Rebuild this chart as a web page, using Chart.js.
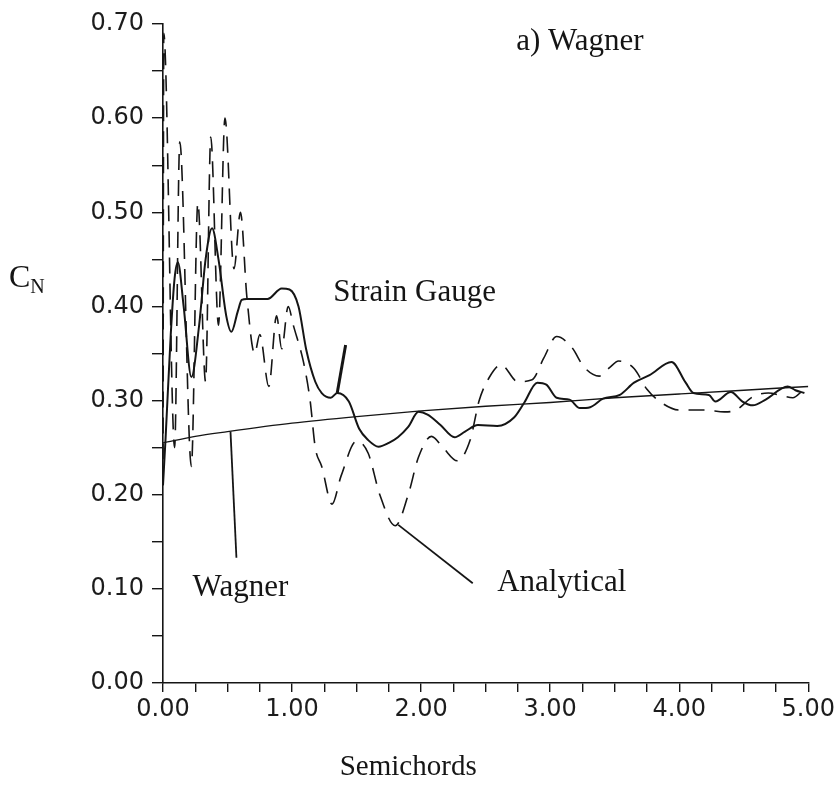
<!DOCTYPE html>
<html>
<head>
<meta charset="utf-8">
<script src="https://cdn.jsdelivr.net/npm/chart.js@4/dist/chart.umd.min.js"></script>
<style>
  html, body { margin: 0; padding: 0; background: #fff; }
  #wrap { width: 838px; height: 788px; }
</style>
</head>
<body>
<div id="wrap"><canvas id="chart" width="838" height="788"></canvas></div>
<script>
// Wagner function (solid thin)
const wagnerX = [0, 0.25, 0.5, 1.0, 1.5, 2.0, 2.5, 3.0, 3.5, 4.0, 4.5, 5.0];
const wagnerY = [0.255, 0.262, 0.267, 0.276, 0.283, 0.289, 0.294, 0.298, 0.303, 0.307, 0.311, 0.315];

// Strain gauge (solid)
const gaugeX = [0, 0.02, 0.06, 0.09, 0.115, 0.16, 0.22, 0.28, 0.33, 0.38, 0.43, 0.49, 0.53, 0.58, 0.61, 0.65,
    0.81, 0.92, 0.98, 1.05, 1.11, 1.18, 1.23, 1.30, 1.35, 1.44, 1.52, 1.59, 1.67, 1.75, 1.82, 1.90, 1.98,
    2.05, 2.15, 2.26, 2.34, 2.44, 2.59, 2.72, 2.80, 2.90, 2.97, 3.05, 3.15, 3.23, 3.31, 3.41, 3.54, 3.65,
    3.77, 3.94, 4.05, 4.11, 4.23, 4.28, 4.40, 4.49, 4.57, 4.67, 4.84, 4.90, 4.97];
const gaugeY = [0.21, 0.26, 0.37, 0.43, 0.447, 0.40, 0.325, 0.38, 0.45, 0.483, 0.45, 0.39, 0.373, 0.395, 0.407, 0.408,
    0.408, 0.419, 0.418, 0.40, 0.354, 0.32, 0.308, 0.303, 0.308, 0.299, 0.27, 0.258, 0.251, 0.255, 0.261, 0.272, 0.288,
    0.285, 0.274, 0.261, 0.267, 0.274, 0.273, 0.282, 0.298, 0.319, 0.317, 0.303, 0.301, 0.292, 0.293, 0.302, 0.306, 0.319,
    0.327, 0.341, 0.319, 0.308, 0.306, 0.299, 0.309, 0.299, 0.295, 0.301, 0.315, 0.311, 0.308];

// Analytical (dashed)
const analyticX = [0, 0.006, 0.09, 0.13, 0.22, 0.27, 0.33, 0.37, 0.43, 0.48, 0.55, 0.60, 0.65, 0.71, 0.75, 0.82,
    0.88, 0.92, 0.97, 1.01, 1.09, 1.14, 1.18, 1.23, 1.31, 1.38, 1.50, 1.59, 1.68, 1.80, 1.90, 1.98, 2.08, 2.17,
    2.28, 2.38, 2.45, 2.53, 2.62, 2.75, 2.86, 2.95, 3.05, 3.17, 3.26, 3.38, 3.46, 3.53, 3.65, 3.75, 3.86, 4.0,
    4.2, 4.35, 4.44, 4.57, 4.69, 4.8, 4.88, 4.96];
const analyticY = [0.21, 0.69, 0.25, 0.575, 0.23, 0.51, 0.32, 0.58, 0.38, 0.60, 0.44, 0.50, 0.41, 0.35, 0.37, 0.315,
    0.39, 0.355, 0.40, 0.38, 0.34, 0.30, 0.25, 0.23, 0.19, 0.22, 0.257, 0.244, 0.20, 0.167, 0.20, 0.24, 0.262, 0.25,
    0.236, 0.258, 0.30, 0.325, 0.338, 0.32, 0.322, 0.345, 0.368, 0.356, 0.336, 0.326, 0.335, 0.342, 0.334, 0.312, 0.298, 0.29,
    0.29, 0.288, 0.29, 0.304, 0.308, 0.305, 0.303, 0.311];

// leader lines from labels to curves
const wagnerLeaderX = [0.523, 0.569];
const wagnerLeaderY = [0.267, 0.133];
const gaugeLeaderX = [1.35, 1.415];
const gaugeLeaderY = [0.308, 0.359];
const analyticLeaderX = [1.823, 2.40];
const analyticLeaderY = [0.168, 0.106];

const xTicks = [0, 1, 2, 3, 4, 5];
const yTicks = [0, 0.1, 0.2, 0.3, 0.4, 0.5, 0.6, 0.7];

const toPoints = (xs, ys) => xs.map((x, i) => ({ x, y: ys[i] }));

const INK = '#151515';
const serif = '"Liberation Serif", "Times New Roman", serif';

const curve = (label, xs, ys, extra) => Object.assign({
    label,
    data: toPoints(xs, ys),
    borderColor: INK,
    borderWidth: 1.6,
    pointRadius: 0,
    fill: false,
    cubicInterpolationMode: 'monotone',
}, extra);

const leader = (xs, ys, width) => ({
    label: '',
    data: toPoints(xs, ys),
    borderColor: INK,
    borderWidth: width,
    pointRadius: 0,
    tension: 0,
});

const notes = [
    { text: 'a) Wagner', x: 3.23, y: 0.681 },
    { text: 'Strain Gauge', x: 1.95, y: 0.414 },
    { text: 'Wagner', x: 0.60, y: 0.101 },
    { text: 'Analytical', x: 3.09, y: 0.106 },
];

const textPlugin = {
    id: 'textNotes',
    afterDraw(chart) {
        const { ctx, scales: { x, y } } = chart;
        ctx.save();
        ctx.fillStyle = INK;
        ctx.font = '31px ' + serif;
        ctx.textAlign = 'center';
        ctx.textBaseline = 'middle';
        notes.forEach((n) => {
            ctx.fillText(n.text, x.getPixelForValue(n.x), y.getPixelForValue(n.y));
        });

        // x axis title
        ctx.font = '29px ' + serif;
        ctx.fillText('Semichords', x.getPixelForValue(1.9), 767);

        // y axis title C with subscript N
        const cy = y.getPixelForValue(0.43);
        ctx.textAlign = 'left';
        ctx.font = '32px ' + serif;
        ctx.fillText('C', 9, cy);
        const cw = ctx.measureText('C').width;
        ctx.font = '20px ' + serif;
        ctx.fillText('N', 9 + cw, cy + 10);
        ctx.restore();
    },
};

new Chart(document.getElementById('chart'), {
    type: 'line',
    data: {
        datasets: [
            curve('Wagner', wagnerX, wagnerY, { borderWidth: 1.4 }),
            curve('Strain Gauge', gaugeX, gaugeY, { borderWidth: 2 }),
            curve('Analytical', analyticX, analyticY, { borderDash: [16, 10] }),
            leader(wagnerLeaderX, wagnerLeaderY, 1.8),
            leader(gaugeLeaderX, gaugeLeaderY, 3),
            leader(analyticLeaderX, analyticLeaderY, 1.8),
        ],
    },
    options: {
        responsive: false,
        animation: false,
        layout: { padding: { left: 0, right: 28, top: 24, bottom: 0 } },
        plugins: {
            legend: { display: false },
            tooltip: { enabled: false },
        },
        scales: {
            x: {
                type: 'linear',
                min: 0,
                max: 5,
                afterFit: (scale) => { scale.height = 105; },
                afterBuildTicks: (scale) => {
                    const t = [];
                    for (let v = 0; v <= 5.0001; v += 0.25) t.push({ value: +v.toFixed(2) });
                    scale.ticks = t;
                },
                border: { display: true, color: INK, width: 1.6 },
                grid: { drawOnChartArea: false, drawTicks: true, tickLength: 9, color: INK, lineWidth: 1.4 },
                ticks: {
                    autoSkip: false,
                    maxRotation: 0,
                    padding: 3,
                    color: '#1c1c1c',
                    font: { family: '"DejaVu Sans", sans-serif', size: 24 },
                    callback: (v) => (xTicks.some((t) => Math.abs(t - v) < 1e-6) ? v.toFixed(2) : ''),
                },
            },
            y: {
                type: 'linear',
                min: 0,
                max: 0.7,
                afterFit: (scale) => { scale.width = 163; },
                afterBuildTicks: (scale) => {
                    const t = [];
                    for (let v = 0; v <= 0.7001; v += 0.05) t.push({ value: +v.toFixed(2) });
                    scale.ticks = t;
                },
                border: { display: true, color: INK, width: 1.6 },
                grid: { drawOnChartArea: false, drawTicks: true, tickLength: 11, color: INK, lineWidth: 1.4 },
                ticks: {
                    autoSkip: false,
                    padding: 8,
                    color: '#1c1c1c',
                    font: { family: '"DejaVu Sans", sans-serif', size: 24 },
                    callback: (v) => (yTicks.some((t) => Math.abs(t - v) < 1e-6) ? v.toFixed(2) : ''),
                },
            },
        },
    },
    plugins: [textPlugin],
});
</script>
</body>
</html>
